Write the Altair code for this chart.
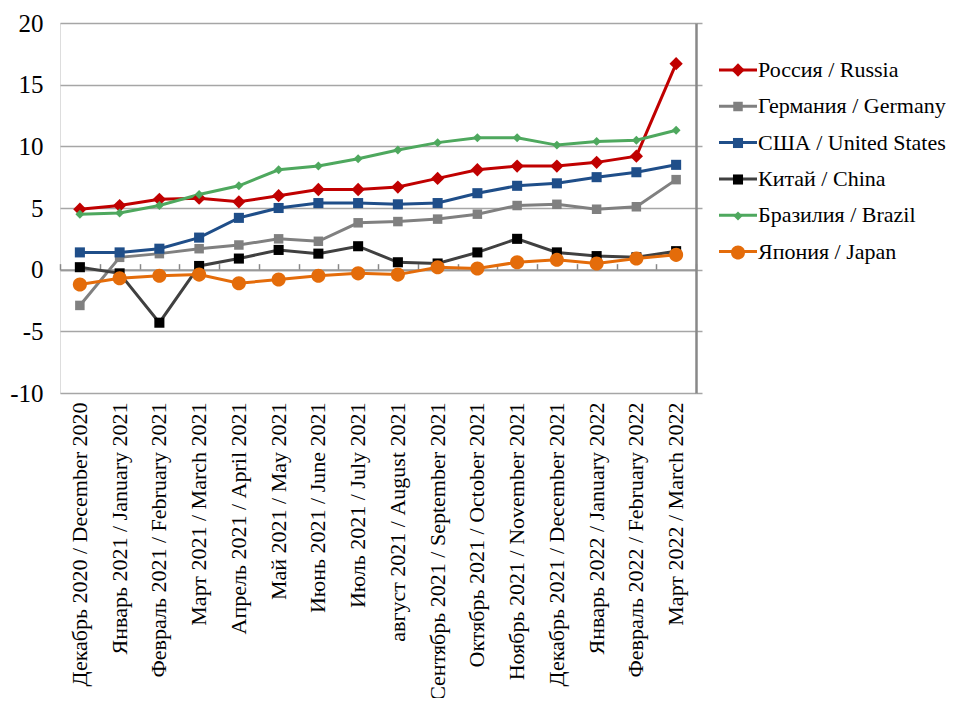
import altair as alt
import pandas as pd

months = [
    "Декабрь 2020 / December 2020",
    "Январь 2021 / January 2021",
    "Февраль 2021 / February 2021",
    "Март 2021 / March 2021",
    "Апрель 2021 / April 2021",
    "Май 2021 / May 2021",
    "Июнь 2021 / June 2021",
    "Июль 2021 /  July 2021",
    "август 2021 / August 2021",
    "Сентябрь 2021 / September 2021",
    "Октябрь 2021 /  October 2021",
    "Ноябрь 2021 / November 2021",
    "Декабрь 2021 / December 2021",
    "Январь 2022 / January 2022",
    "Февраль 2022 / February 2022",
    "Март 2022 / March 2022",
]

series_names = [
    "Россия / Russia",
    "Германия / Germany",
    "США / United States",
    "Китай / China",
    "Бразилия / Brazil",
    "Япония / Japan",
]

russia = [4.9, 5.2, 5.7, 5.8, 5.5, 6.0, 6.5, 6.5, 6.7, 7.4, 8.1, 8.4, 8.4, 8.7, 9.2, 16.7]
germany = [-2.9, 1.0, 1.3, 1.7, 2.0, 2.5, 2.3, 3.8, 3.9, 4.1, 4.5, 5.2, 5.3, 4.9, 5.1, 7.3]
usa = [1.4, 1.4, 1.7, 2.6, 4.2, 5.0, 5.4, 5.4, 5.3, 5.4, 6.2, 6.8, 7.0, 7.5, 7.9, 8.5]
china = [0.2, -0.3, -4.3, 0.3, 0.9, 1.6, 1.3, 1.9, 0.6, 0.5, 1.4, 2.5, 1.4, 1.1, 1.0, 1.5]
brazil = [4.5, 4.6, 5.2, 6.1, 6.8, 8.1, 8.4, 9.0, 9.7, 10.3, 10.7, 10.7, 10.1, 10.4, 10.5, 11.3]
japan = [-1.2, -0.7, -0.5, -0.4, -1.1, -0.8, -0.5, -0.3, -0.4, 0.2, 0.1, 0.6, 0.8, 0.5, 0.9, 1.2]

line_colors = ["#C00000", "#808080", "#1F4E89", "#404040", "#4EA85E", "#E46C0A"]
marker_colors = ["#C00000", "#808080", "#1F4E89", "#000000", "#4EA85E", "#E46C0A"]

# marker outlines in unit coordinates (symbol size 361 -> 9.5 px per unit)
marker_paths = [
    "M-0.7,0L0,-0.7L0.7,0L0,0.7Z",
    "M-0.5,-0.5H0.5V0.5H-0.5Z",
    "M-0.53,-0.53H0.53V0.53H-0.53Z",
    "M-0.53,-0.53H0.53V0.53H-0.53Z",
    "M-0.47,0L0,-0.47L0.47,0L0,0.47Z",
    "M-0.74,0A0.74,0.74 0 1,0 0.74,0A0.74,0.74 0 1,0 -0.74,0Z",
]
LINE_SYMBOL = "M-2,0H2"
SYM_SIZE = 361

# marker keys kept distinct from the line keys so the two overlaid legends stay separate
marker_names = [n + "\u200b" for n in series_names]

all_values = [russia, germany, usa, china, brazil, japan]
rows = []
for name, mname, vals in zip(series_names, marker_names, all_values):
    for m, v in zip(months, vals):
        rows.append({"Month": m, "Series": name, "Marker": mname, "Value": v})
df = pd.DataFrame(rows)

FONT = "Liberation Serif"
W, H = 636, 370
zero_offset = -(H * 20.0 / 30.0)
yticks = [-10, -5, 0, 5, 10, 15, 20]

x_scale = alt.Scale(domain=months, paddingInner=0, paddingOuter=0)
y_scale = alt.Scale(domain=[-10, 20], nice=False)

common_leg = dict(title=None, orient="none", legendX=667, legendY=36,
                  labelFont=FONT, labelFontSize=22, labelLimit=400,
                  symbolSize=SYM_SIZE, symbolStrokeWidth=3,
                  labelOffset=9, gridAlign="all")

base = alt.Chart(df)

lines = base.mark_line(strokeWidth=3).encode(
    x=alt.X("Month:N", sort=months, scale=x_scale, title=None,
            axis=alt.Axis(orient="bottom", labelAngle=270, labelAlign="right",
                          labelBaseline="middle", labelFont=FONT, labelFontSize=22,
                          labelColor="black", labelPadding=9, labelLimit=400,
                          ticks=False, domain=False, grid=False)),
    y=alt.Y("Value:Q", scale=y_scale, title=None,
            axis=alt.Axis(orient="left", values=yticks, labelExpr="'' + datum.value",
                          labelFont=FONT, labelFontSize=25, labelColor="black",
                          labelPadding=17, ticks=False, domain=False,
                          grid=True, gridColor="#A6A6A6", gridWidth=1.5)),
    color=alt.Color("Series:N", scale=alt.Scale(domain=series_names, range=line_colors),
                    legend=alt.Legend(symbolType=LINE_SYMBOL, labelColor="black",
                                      rowPadding=14.3, **common_leg)),
)

marker_leg = alt.Legend(labelExpr="'\u200b'", labelColor="black",
                        symbolStrokeColor="transparent", symbolOpacity=1,
                        rowPadding=8.5, **common_leg)

points = base.mark_point(filled=True, opacity=1, strokeWidth=0).encode(
    x=alt.X("Month:N", sort=months, scale=x_scale, title=None,
            axis=alt.Axis(orient="top", offset=zero_offset, labels=False,
                          ticks=True, tickBand="extent", tickSize=6,
                          tickColor="#888888", tickWidth=1.5,
                          domain=True, domainColor="#999999", domainWidth=2,
                          grid=False)),
    y=alt.Y("Value:Q", scale=y_scale, title=None,
            axis=alt.Axis(orient="right", values=yticks, labels=False, ticks=True,
                          tickSize=6, tickColor="#A6A6A6", tickWidth=1.5,
                          domain=True, domainColor="#888888", domainWidth=2.5,
                          grid=False)),
    fill=alt.Fill("Marker:N", scale=alt.Scale(domain=marker_names, range=marker_colors),
                  legend=marker_leg),
    shape=alt.Shape("Marker:N", scale=alt.Scale(domain=marker_names, range=marker_paths),
                    legend=marker_leg),
    size=alt.value(SYM_SIZE),
)

chart = alt.layer(lines, points).resolve_axis(
    x="independent", y="independent"
).properties(
    width=W, height=H,
    autosize=alt.AutoSizeParams(type="none"),
    padding={"left": 52, "top": 15, "right": 250, "bottom": 305},
).configure_view(stroke=None).configure(background="white")

chart.save("out.html", embed_options={"renderer": "svg", "actions": False})
